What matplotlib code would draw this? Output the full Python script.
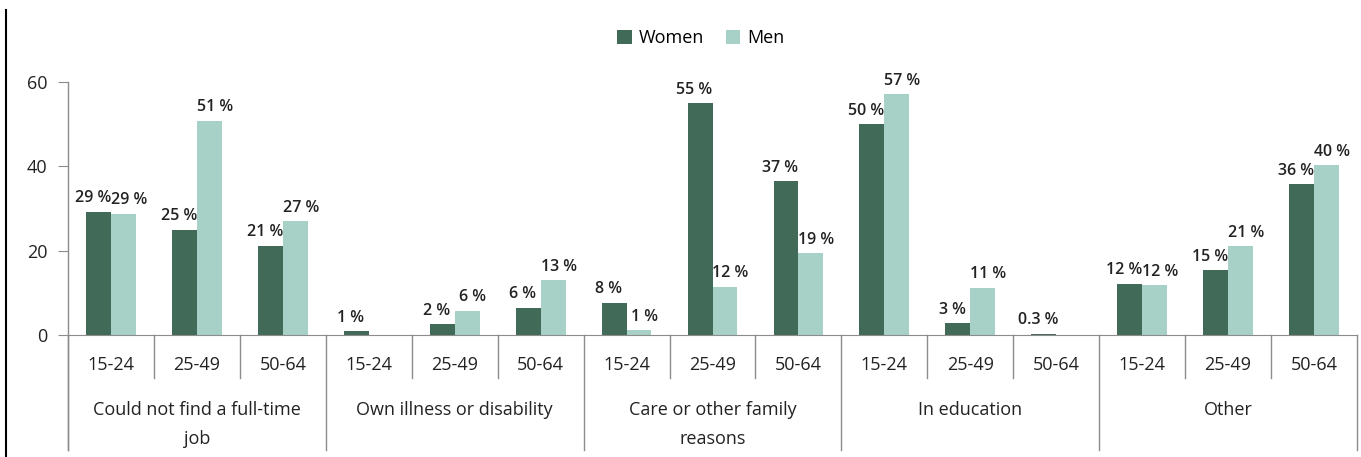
import numpy as np
import matplotlib.pyplot as plt
from matplotlib.lines import Line2D
import matplotlib.transforms as mtransforms

plt.rcParams['font.family'] = ['Open Sans', 'DejaVu Sans']

categories = ["Could not find a full-time\njob", "Own illness or disability",
              "Care or other family\nreasons", "In education", "Other"]
ages = ["15-24", "25-49", "50-64"]
women = [29.2, 25.0, 21.2, 0.9, 2.5, 6.4, 7.6, 55.0, 36.5, 50.0, 2.8, 0.3, 12.1, 15.3, 35.7]
men = [28.8, 50.8, 27.0, np.nan, 5.8, 13.0, 1.1, 11.4, 19.4, 57.1, 11.2, np.nan, 11.8, 21.0, 40.2]
women_labels = ["29 %", "25 %", "21 %", "1 %", "2 %", "6 %", "8 %", "55 %", "37 %",
                "50 %", "3 %", "0.3 %", "12 %", "15 %", "36 %"]
men_labels = ["29 %", "51 %", "27 %", "", "6 %", "13 %", "1 %", "12 %", "19 %",
              "57 %", "11 %", "", "12 %", "21 %", "40 %"]

c_women = "#426a58"
c_men = "#a7d1c7"
grey = "#8c8c8c"

fig = plt.figure(figsize=(13.61, 4.57), dpi=100)
ax = fig.add_axes([68 / 1361, 1 - 335 / 457, (1357 - 68) / 1361, 253 / 457])

x = np.arange(len(women))
w = 0.29
bw = ax.bar(x - w / 2, women, w, color=c_women, label="Women")
bm = ax.bar(x + w / 2, np.nan_to_num(men), w, color=c_men, label="Men")

for i in range(len(x)):
    ax.annotate(women_labels[i], (x[i] - w / 2, women[i]), xytext=(-4, 4),
                textcoords="offset points", ha="center", va="bottom",
                fontsize=11.5, fontweight="semibold", color="#222222")
    if men_labels[i]:
        ax.annotate(men_labels[i], (x[i] + w / 2, men[i]), xytext=(4, 4),
                    textcoords="offset points", ha="center", va="bottom",
                    fontsize=11.5, fontweight="semibold", color="#222222")

ax.set_xlim(-0.5, len(x) - 0.5)
ax.set_ylim(0, 60)
ax.set_yticks([0, 20, 40, 60])
ax.tick_params(axis="y", direction="out", length=7, color=grey, labelsize=13, pad=8,
               labelcolor="#222222")
ax.tick_params(axis="x", length=0)
ax.set_xticks([])
for s in ["top", "right", "left"]:
    ax.spines[s].set_visible(False)
ax.spines["bottom"].set_color(grey)

trans = mtransforms.blended_transform_factory(ax.transData, ax.transAxes)
# y axis line running down into the category area
ax.plot([-0.5, -0.5], [-0.455, 1.0], color=grey, lw=1, transform=trans, clip_on=False)
for i in range(len(x) + 1):
    xb = i - 0.5
    if i % 3 == 0:
        ax.plot([xb, xb], [-0.455, 0], color=grey, lw=1, transform=trans, clip_on=False)
    else:
        ax.plot([xb, xb], [-0.17, 0], color=grey, lw=1, transform=trans, clip_on=False)

for i in range(len(x)):
    ax.text(x[i], -0.119, ages[i % 3], transform=trans, ha="center", va="center",
            fontsize=13, color="#222222")
for j, cat in enumerate(categories):
    ax.text(3 * j + 1, -0.262, cat, transform=trans, ha="center", va="top",
            fontsize=13, color="#222222", linespacing=1.75)

fig.legend(handles=[bw, bm], labels=["Women", "Men"], loc="center",
           bbox_to_anchor=(0.515, 1 - 38 / 457), ncol=2, frameon=False,
           fontsize=13, handlelength=0.8, handleheight=0.8, handletextpad=0.4,
           columnspacing=1.2)

fig.add_artist(Line2D([6 / 1361, 6 / 1361], [0, 1 - 10 / 457], color="black", lw=1.5))

fig.savefig("out.png", dpi=100)
